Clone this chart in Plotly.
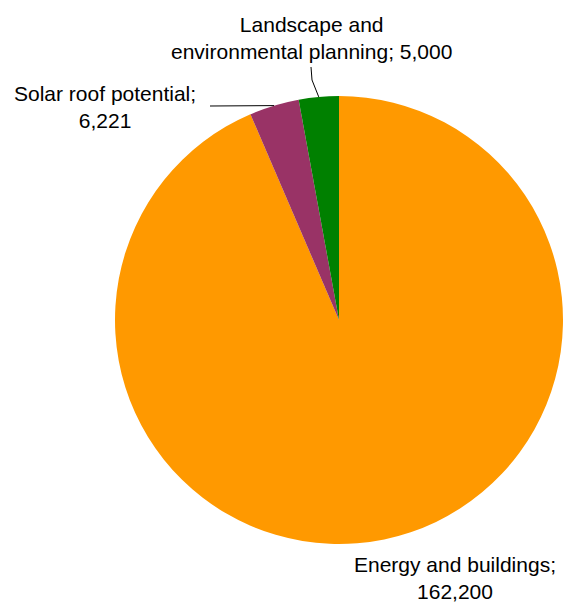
import math
import plotly.graph_objects as go

categories = ["Energy and buildings", "Solar roof potential", "Landscape and environmental planning"]
values = [162200, 6221, 5000]
colors = ["#FF9900", "#993366", "#008000"]
label_texts = ["Energy and buildings;<br>162,200", "Solar roof potential;<br>6,221",
               "Landscape and<br>environmental planning; 5,000"]

W, H = 563, 603
CX, CY, R = 339, 320, 224

def px(x, y):
    return x / W, 1 - y / H

fig = go.Figure(go.Pie(
    labels=categories, values=values, sort=False, direction="clockwise", rotation=0,
    marker=dict(colors=colors, line=dict(width=0)),
    textinfo="none", hoverinfo="label+value", showlegend=False,
    domain=dict(x=[(CX - R) / W, min(1, (CX + R) / W)], y=[(H - CY - R) / H, (H - CY + R) / H]),
))

total = sum(values)
cum = 0
mids = []
for v in values:
    mids.append((cum + v / 2) / total * 2 * math.pi)
    cum += v

def edge(i):
    a = mids[i]
    return CX + R * math.sin(a), CY - R * math.cos(a)

font = dict(family="Liberation Sans, Arial, sans-serif", size=21, color="#000000")
# label positions (pixels)
label_pos = [(455, 578), (105, 107), (311, 38)]
annotations = []
for i, (lx, ly) in enumerate(label_pos):
    x, y = px(lx, ly)
    annotations.append(dict(x=x, y=y, xref="paper", yref="paper", text=label_texts[i],
                            showarrow=False, font=font, align="center",
                            xanchor="center", yanchor="middle"))

shapes = []
# Solar leader
ex, ey = edge(1)
x0, y0 = px(210, 106)
x1, y1 = px(ex, ey)
shapes.append(dict(type="path", xref="paper", yref="paper",
                   path=f"M {x0} {y0} L {x1} {y1}", line=dict(color="black", width=1)))
# Landscape leader
ex, ey = edge(2)
a = px(311, 67); b = px(312, 80); c = px(ex, ey)
shapes.append(dict(type="path", xref="paper", yref="paper",
                   path=f"M {a[0]} {a[1]} L {b[0]} {b[1]} L {c[0]} {c[1]}",
                   line=dict(color="black", width=1)))

fig.update_layout(width=W, height=H, margin=dict(l=0, r=0, t=0, b=0),
                  paper_bgcolor="white", plot_bgcolor="white",
                  annotations=annotations, shapes=shapes)
fig.write_html("out.html")
